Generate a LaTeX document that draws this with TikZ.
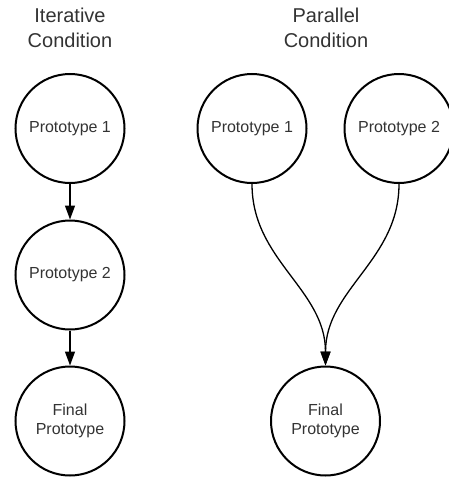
\documentclass[tikz,border=0pt]{standalone}
\usepackage{fontspec}
\setmainfont{Liberation Sans}
\usetikzlibrary{arrows.meta}
\definecolor{mtext}{HTML}{333333}

\begin{document}
\begin{tikzpicture}[x=1pt, y=-1pt,
    proto/.style={draw, circle, line width=2pt, minimum size=109pt,
      inner sep=0pt, align=center, text=mtext, font=\fontsize{16}{19}\selectfont},
    head/.style={text=mtext, align=center, font=\fontsize{20}{25}\selectfont},
    flow/.style={line width=1.3pt, -{Triangle[length=14pt,width=10pt]}}]
      \useasboundingbox (0, 0) rectangle (448, 479);

      \node [head] (iter) at (70, 28) {Iterative\\Condition};
      \node [head] (par) at (326, 28) {Parallel\\Condition};

      \node [proto] (i1) at (70, 128.5) {Prototype 1};
      \node [proto] (i2) at (70, 275) {Prototype 2};
      \node [proto] (if) at (70, 421) {Final\\Prototype};

      \node [proto] (p1) at (252, 128.5) {Prototype 1};
      \node [proto] (p2) at (399, 128.5) {Prototype 2};
      \node [proto] (pf) at (325.5, 421) {Final\\Prototype};

      \draw [flow] (i1) -- (i2);
      \draw [flow] (i2) -- (if);

      \draw [flow] (p1.south) to [out=-90, in=90] (pf.north);
      \draw [flow] (p2.south) to [out=-90, in=90] (pf.north);
    \end{tikzpicture}
\end{document}
